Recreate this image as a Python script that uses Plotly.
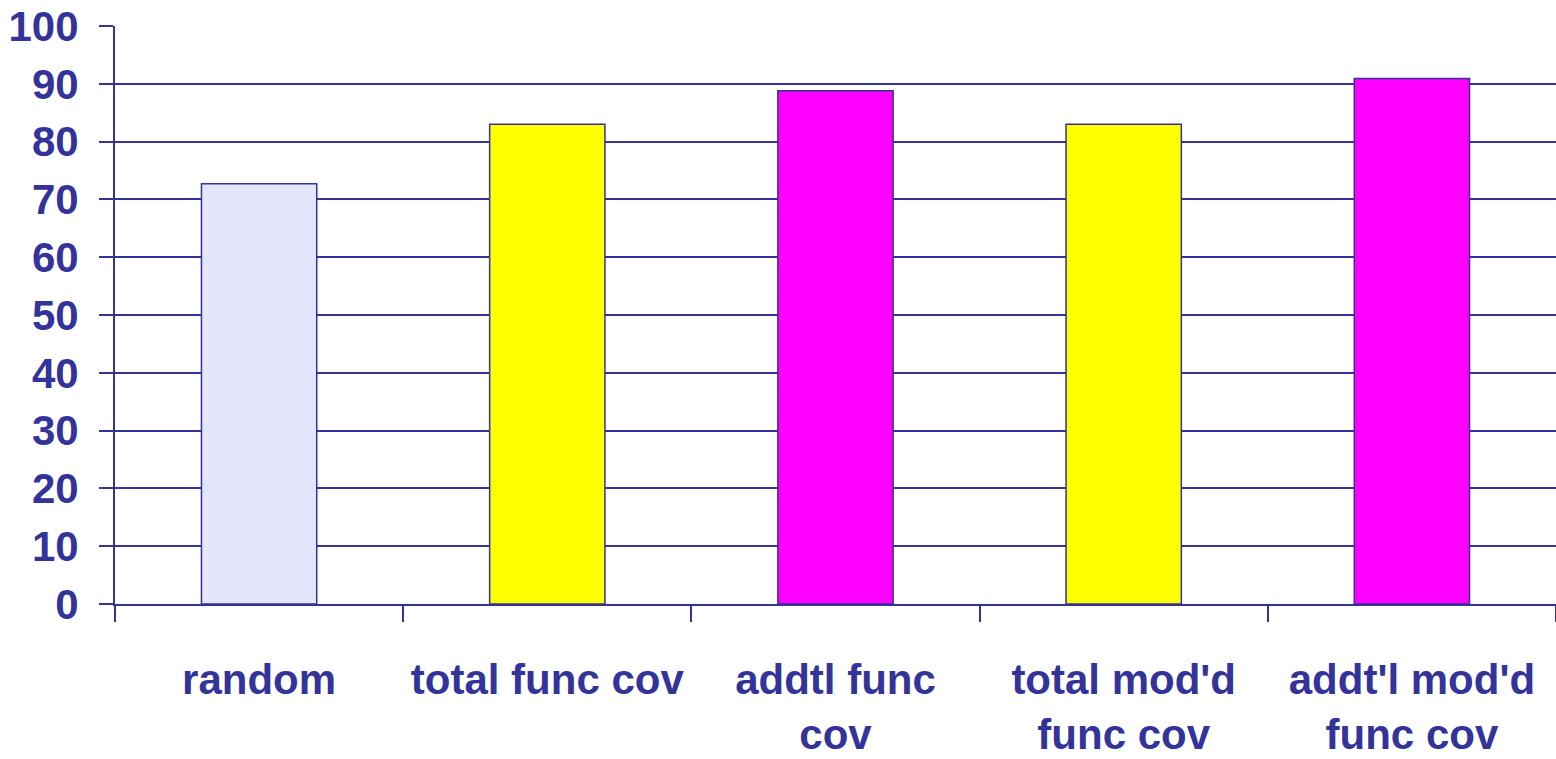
import plotly.graph_objects as go

categories = ["random", "total func cov", "addtl func<br>cov", "total mod'd<br>func cov", "addt'l mod'd<br>func cov"]
values = [72.7, 83.0, 88.8, 83.0, 90.9]
bar_colors = ["#E4E4FB", "#FFFF00", "#FF00FF", "#FFFF00", "#FF00FF"]
y_ticks = [0, 10, 20, 30, 40, 50, 60, 70, 80, 90, 100]

ink = "#333399"
font_family = "Liberation Sans, Arial, sans-serif"

fig = go.Figure(
    go.Bar(
        x=categories,
        y=values,
        width=0.4,
        marker=dict(color=bar_colors, line=dict(color=ink, width=1.5)),
    )
)

fig.update_layout(
    width=1556,
    height=759,
    margin=dict(l=115, r=0, t=26, b=155),
    paper_bgcolor="white",
    plot_bgcolor="white",
    showlegend=False,
    font=dict(family=font_family, color=ink, size=42),
)

fig.update_xaxes(
    showline=True,
    linecolor=ink,
    linewidth=2,
    ticks="outside",
    tickson="boundaries",
    ticklen=16,
    tickwidth=2,
    tickcolor=ink,
    showgrid=False,
    tickfont=dict(family=font_family, size=42, color=ink, weight="bold"),
    ticklabelstandoff=38,
)

fig.update_yaxes(
    range=[0, 100],
    tickvals=y_ticks,
    showline=True,
    linecolor=ink,
    linewidth=2,
    ticks="outside",
    ticklen=14,
    tickwidth=2,
    tickcolor=ink,
    showgrid=True,
    gridcolor=ink,
    gridwidth=2,
    zeroline=False,
    tickfont=dict(family=font_family, size=42, color=ink, weight="bold"),
    ticklabelstandoff=12,
)

fig.write_html("out.html")
